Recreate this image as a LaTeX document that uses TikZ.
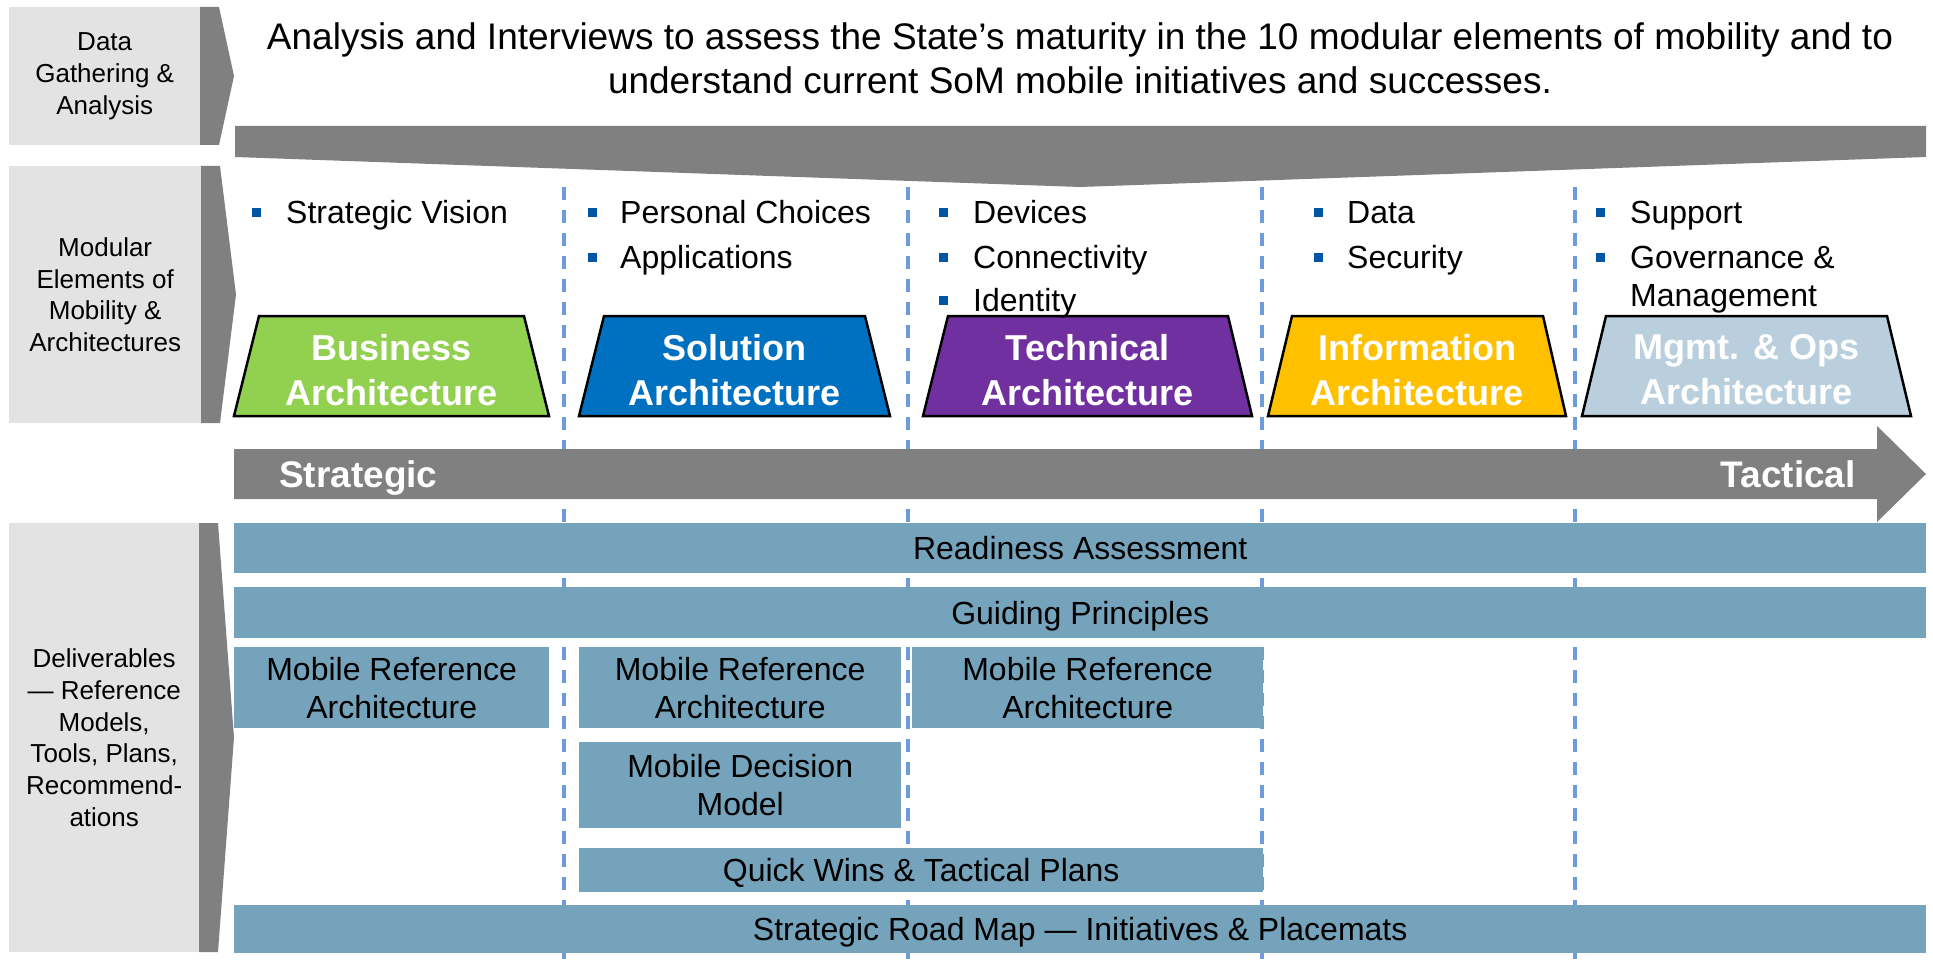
\documentclass[tikz,border=0pt]{standalone}
\usepackage{fontspec}
\setmainfont{Liberation Sans}
\definecolor{lgray}{HTML}{E3E3E3}
\definecolor{dgray}{HTML}{808080}
\definecolor{barblue}{HTML}{74A3BB}
\definecolor{dashblue}{HTML}{6E9BDB}
\definecolor{bulblue}{HTML}{0055A5}
\definecolor{bizgreen}{HTML}{92D050}
\definecolor{solblue}{HTML}{0070C0}
\definecolor{techpurple}{HTML}{7030A0}
\definecolor{infogold}{HTML}{FFC000}
\definecolor{mgmtgray}{HTML}{B9CFDD}
\begin{document}
\begin{tikzpicture}[x=1pt,y=-1pt,
  side/.style={fill=lgray,draw=none,align=center,inner sep=0pt,anchor=north west,font=\fontsize{26}{31.7}\selectfont},
  chev/.style={fill=dgray,draw=none},
  bul/.style={rectangle,fill=bulblue,draw=none,minimum size=9pt,inner sep=0pt},
  btxt/.style={anchor=base west,inner sep=0pt,font=\fontsize{32}{38}\selectfont},
  trap/.style={draw=black,line width=2.5pt,line join=miter},
  traptxt/.style={align=center,inner sep=0pt,text=white,font=\bfseries\fontsize{36}{45}\selectfont},
  bar/.style={fill=barblue,draw=none,anchor=north west,align=center,inner sep=0pt,font=\fontsize{32}{38}\selectfont},
  oneline/.style={text height=23pt,text depth=0pt},
  colsep/.style={draw=dashblue,line width=3.4pt,dash pattern=on 13pt off 10pt},
  arrtxt/.style={inner sep=0pt,text=white,font=\bfseries\fontsize{37}{44}\selectfont,text height=26.5pt,text depth=0pt}
]
\useasboundingbox (0,0) rectangle (1933,960);
\fill[white] (0,0) rectangle (1933,960);

% column separators
\draw[colsep] (564,187) -- (564,960);
\draw[colsep] (908,187) -- (908,960);
\draw[colsep] (1262,187) -- (1262,960);
\draw[colsep] (1575,187) -- (1575,960);

% left row labels
\node[side,minimum width=191pt,minimum height=138pt] (l1) at (9,7) {Data\\Gathering \&\\Analysis};
\fill[chev] (200,7) -- (219,7) -- (234,76) -- (219,145) -- (200,145) -- cycle;
\node[side,minimum width=192pt,minimum height=257pt] (l2) at (9,166) {Modular\\Elements of\\Mobility \&\\Architectures};
\fill[chev] (201,166) -- (220,166) -- (236,294.5) -- (220,423) -- (201,423) -- cycle;
\node[side,minimum width=190pt,minimum height=429pt] (l3) at (9,523) {Deliverables\\— Reference\\Models,\\Tools, Plans,\\Recommend-\\ations};
\fill[chev] (199,523) -- (218,523) -- (234,737.5) -- (218,952) -- (199,952) -- cycle;

% intro text and big bar
\node[align=center,inner sep=0pt,font=\fontsize{37}{43.5}\selectfont] (intro) at (1080,58.5)
  {Analysis and Interviews to assess the State’s maturity in the 10 modular elements of mobility and to\\understand current SoM mobile initiatives and successes.};
\fill[dgray] (235,126) -- (1926,126) -- (1926,157) -- (1080,187) -- (235,157) -- cycle;

% bullets
\node[bul] (b11) at (256,213) {};
\node[btxt] (t11) at (286,224) {Strategic Vision};
\node[bul] (b21) at (592,213) {};
\node[btxt] (t21) at (620,224) {Personal Choices};
\node[bul] (b22) at (592,257) {};
\node[btxt] (t22) at (620,268) {Applications};
\node[bul] (b31) at (943,213) {};
\node[btxt] (t31) at (973,224) {Devices};
\node[bul] (b32) at (943,257) {};
\node[btxt] (t32) at (973,268) {Connectivity};
\node[bul] (b33) at (943,300) {};
\node[bul] (b41) at (1318,213) {};
\node[btxt] (t41) at (1347,224) {Data};
\node[bul] (b42) at (1318,257) {};
\node[btxt] (t42) at (1347,268) {Security};
\node[bul] (b51) at (1600,213) {};
\node[btxt] (t51) at (1630,224) {Support};
\node[bul] (b52) at (1600,257) {};
\node[btxt] (t52) at (1630,268) {Governance \&};
\node[btxt] (t53) at (1630,306) {Management};

% architecture trapezoids
\draw[trap,fill=bizgreen] (234,416) -- (259,316) -- (524,316) -- (549,416) -- cycle;
\node[traptxt] (biz) at (391.5,370) {Business\\Architecture};
\draw[trap,fill=solblue] (579,416) -- (604,316) -- (865,316) -- (890,416) -- cycle;
\node[traptxt] (sol) at (734.5,370) {Solution\\Architecture};
\draw[trap,fill=techpurple] (923,416) -- (948,316) -- (1228,316) -- (1252,416) -- cycle;
\node[traptxt] (tech) at (1087.5,370) {Technical\\Architecture};
\draw[trap,fill=infogold] (1268,416) -- (1292,316) -- (1543,316) -- (1566,416) -- cycle;
\node[traptxt] (info) at (1417,370) {Information\\Architecture};
\draw[trap,fill=mgmtgray] (1582,416) -- (1606,316) -- (1887,316) -- (1911,416) -- cycle;
\node[traptxt] (mgmt) at (1746.5,370) {Mgmt. \& Ops\\Architecture};
\node[btxt] (t33) at (973,311) {Identity};

% strategic -> tactical arrow
\fill[dgray] (234,449) -- (1877,449) -- (1877,426) -- (1926,474) -- (1877,522) -- (1877,499) -- (234,499) -- cycle;
\node[arrtxt,anchor=west] (strat) at (279,474) {Strategic};
\node[arrtxt,anchor=east] (tact) at (1856,474) {Tactical};

% deliverables
\node[bar,oneline,minimum width=1692pt,minimum height=50pt] (ready) at (234,523) {Readiness Assessment};
\node[bar,oneline,minimum width=1692pt,minimum height=51pt] (guide) at (234,587) {Guiding Principles};
\node[bar,minimum width=315pt,minimum height=81pt] (mra1) at (234,647) {Mobile Reference\\Architecture};
\node[bar,minimum width=322pt,minimum height=81pt] (mra2) at (579,647) {Mobile Reference\\Architecture};
\node[bar,minimum width=351pt,minimum height=81pt] (mra3) at (912,647) {Mobile Reference\\Architecture};
\node[bar,minimum width=322pt,minimum height=86pt] (dec) at (579,742) {Mobile Decision\\Model};
\node[bar,oneline,minimum width=684pt,minimum height=44pt] (quick) at (579,848) {Quick Wins \& Tactical Plans};
\node[bar,oneline,minimum width=1692pt,minimum height=48pt] (road) at (234,905) {Strategic Road Map — Initiatives \& Placemats};
\end{tikzpicture}
\end{document}
